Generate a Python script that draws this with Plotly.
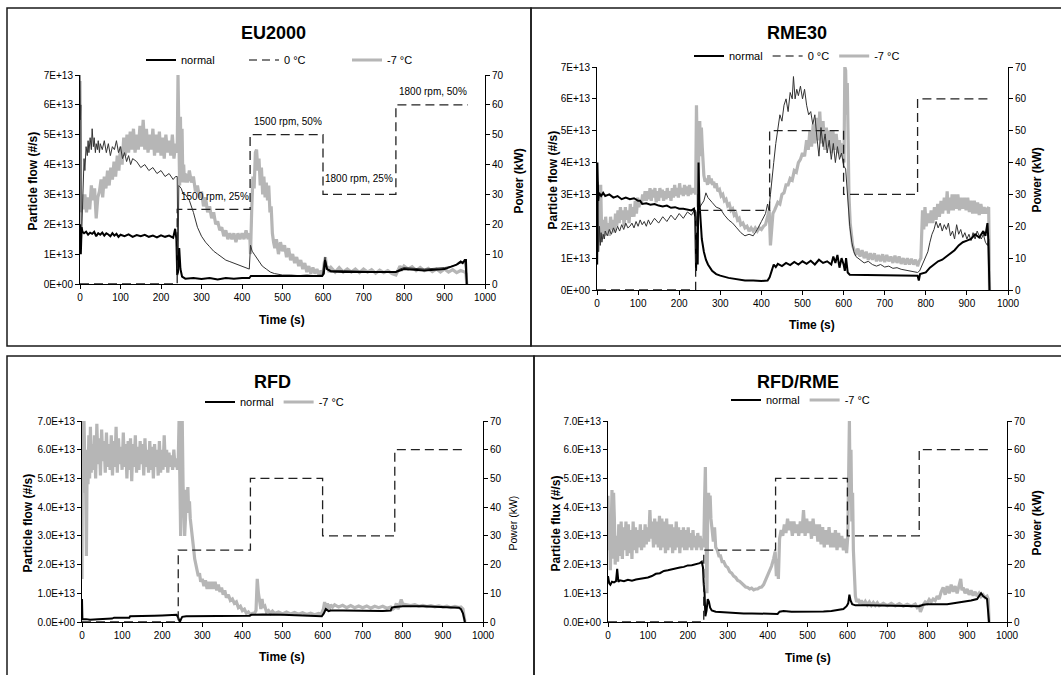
import plotly.graph_objects as go

# ---------------- data (particle values in units of 1E+13 #/s, time in s) ----------------
eu_normal = [(0,2.0),(2,1.0),(4,1.9),(6,1.75),(10,1.7),(15,1.75),(20,1.65),(25,1.72),(30,1.68),(35,1.75),
             (40,1.6),(45,1.7),(50,1.65),(55,1.72),(60,1.62),(65,1.7),(70,1.66),(75,1.6),(80,1.7),(85,1.62),
             (90,1.68),(95,1.58),(100,1.65),(110,1.6),(120,1.66),(130,1.58),(140,1.64),(150,1.6),(160,1.65),
             (170,1.58),(180,1.62),(190,1.56),(200,1.63),(210,1.58),(220,1.62),(230,1.55),(235,1.85),(238,1.5),
             (240,0.3),(242,0.4),(245,1.2),(248,0.5),(252,0.25),(256,0.2),(260,0.18),(280,0.2),(300,0.17),
             (320,0.2),(340,0.15),(360,0.2),(380,0.18),(400,0.2),(418,0.2),(422,0.27),(440,0.27),(500,0.26),
             (560,0.27),(598,0.27),(602,0.35),(605,0.8),(610,0.5),(620,0.42),(650,0.4),(700,0.4),(750,0.38),
             (780,0.4),(790,0.45),(800,0.5),(850,0.45),(900,0.5),(910,0.55),(920,0.6),(930,0.65),(940,0.75),
             (945,0.7),(950,0.8),(953,0.8),(955,0.0)]
eu_zero = [(0,7.0),(1,5.5),(2,6.0),(3,1.2),(5,2.0),(8,3.5),(10,4.2),(12,3.8),(15,4.6),(18,4.3),(20,4.8),
           (22,4.4),(25,4.9),(28,4.5),(30,5.2),(33,4.6),(35,4.9),(38,4.4),(40,4.7),(43,4.5),(45,4.8),(48,4.4),
           (50,4.7),(55,4.5),(60,4.8),(65,4.4),(70,4.7),(75,4.3),(80,4.6),(85,4.5),(90,4.8),(95,4.4),(100,4.6),
           (105,4.2),(110,4.4),(115,4.1),(120,4.3),(125,4.0),(130,4.2),(140,4.1),(150,3.9),(160,4.0),(170,3.8),
           (180,3.9),(190,3.7),(200,3.8),(210,3.6),(220,3.7),(230,3.5),(236,3.6),(240,3.6),(242,0.5),(244,3.3),
           (250,3.2),(255,3.0),(260,3.0),(270,2.8),(280,2.4),(290,1.9),(300,1.6),(310,1.4),(320,1.25),(330,1.1),
           (340,1.0),(350,0.9),(360,0.8),(370,0.75),(380,0.7),(390,0.65),(400,0.6),(410,0.55),(418,0.5),
           (421,1.3),(425,1.1),(430,1.0),(440,0.8),(450,0.6),(460,0.5),(470,0.4),(480,0.35),(490,0.32),
           (500,0.3),(520,0.3),(540,0.28),(560,0.3),(580,0.28),(598,0.3),(602,0.6),(605,0.9),(610,0.5),
           (620,0.45),(650,0.45),(700,0.42),(750,0.4),(780,0.42),(790,0.5),(800,0.55),(850,0.5),(900,0.55),
           (920,0.6),(940,0.7),(950,0.75),(955,0.0)]
eu_cold = [(0,6.8),(2,2.4),(4,3.0),(8,2.5),(12,3.0),(16,2.4),(20,2.9),(24,2.5),(28,3.3),(32,2.8),(36,3.2),
           (40,2.2),(44,2.9),(48,3.1),(52,3.5),(56,2.9),(60,3.6),(64,3.2),(68,3.8),(72,3.3),(76,3.9),(80,3.5),
           (84,4.1),(88,3.6),(92,4.3),(96,3.8),(100,4.6),(104,4.0),(108,4.9),(112,4.3),(116,5.0),(120,4.4),
           (124,5.1),(128,4.5),(132,5.2),(136,4.4),(140,5.0),(144,4.5),(148,5.3),(152,4.6),(156,5.5),(160,4.5),
           (164,5.2),(168,4.4),(172,5.0),(176,4.5),(180,5.2),(184,4.3),(188,5.0),(192,4.4),(196,5.1),(200,4.3),
           (204,4.9),(208,4.2),(212,5.0),(216,4.4),(220,4.8),(224,4.3),(228,5.0),(232,4.2),(236,4.7),(239,4.5),
           (240,4.4),(242,7.0),(244,4.0),(246,3.3),(248,5.6),(250,3.5),(252,5.2),(254,3.4),(256,4.0),(258,3.4),
           (260,3.7),(265,3.4),(270,3.8),(275,3.4),(280,3.6),(285,3.1),(290,3.3),(295,2.9),(300,3.1),(305,2.6),
           (310,2.9),(315,2.4),(320,2.6),(325,2.2),(330,2.4),(335,2.0),(340,2.1),(345,1.8),(350,1.9),(355,1.6),
           (360,1.8),(365,1.5),(370,1.7),(375,1.5),(380,1.7),(385,1.4),(390,1.7),(395,1.5),(400,1.7),(405,1.5),
           (410,1.8),(415,1.5),(419,1.7),(421,1.0),(424,2.5),(427,3.6),(430,3.2),(433,4.4),(436,4.5),(439,3.8),
           (442,4.2),(445,3.3),(448,3.9),(451,3.0),(454,3.6),(457,2.9),(460,3.4),(463,2.8),(466,3.3),(469,2.4),
           (472,2.6),(475,1.7),(478,1.4),(481,1.2),(485,1.5),(490,1.0),(495,1.4),(500,1.1),(505,1.3),(510,0.9),
           (515,1.2),(520,0.8),(525,1.0),(530,0.7),(535,0.9),(540,0.6),(545,0.8),(550,0.5),(555,0.7),(560,0.4),
           (565,0.6),(570,0.35),(575,0.55),(580,0.35),(585,0.5),(590,0.3),(595,0.45),(600,0.35),(603,0.7),
           (606,0.9),(609,0.5),(612,0.6),(615,0.4),(620,0.55),(630,0.4),(640,0.55),(650,0.4),(660,0.5),
           (670,0.4),(680,0.5),(690,0.38),(700,0.5),(710,0.4),(720,0.48),(730,0.36),(740,0.46),(750,0.38),
           (760,0.45),(770,0.35),(780,0.3),(785,0.45),(790,0.6),(795,0.5),(800,0.6),(810,0.5),(820,0.58),
           (830,0.45),(840,0.55),(850,0.45),(860,0.52),(870,0.42),(880,0.5),(890,0.4),(900,0.5),(910,0.4),
           (920,0.48),(930,0.38),(940,0.45),(950,0.4),(953,0.35),(955,0.0)]

rme_normal = [(0,0.8),(1,4.0),(3,2.8),(5,3.05),(10,2.95),(15,3.05),(20,2.95),(30,3.0),(40,2.9),(50,2.95),
              (60,2.85),(70,2.9),(80,2.85),(90,2.88),(100,2.8),(105,2.8),(110,2.7),(120,2.72),(130,2.68),
              (140,2.7),(150,2.65),(160,2.62),(170,2.65),(180,2.58),(190,2.6),(200,2.55),(210,2.55),(220,2.52),
              (230,2.5),(236,2.55),(239,2.3),(241,0.6),(243,1.8),(245,0.8),(247,4.0),(249,2.8),(252,2.0),
              (255,1.6),(260,1.2),(265,0.95),(270,0.8),(280,0.6),(290,0.5),(300,0.45),(320,0.38),(340,0.33),
              (360,0.3),(380,0.3),(400,0.28),(415,0.3),(420,0.4),(425,0.6),(430,0.8),(435,0.72),(440,0.82),
              (450,0.75),(460,0.85),(470,0.78),(480,0.88),(490,0.8),(500,0.9),(510,0.82),(520,0.92),(530,0.8),
              (540,0.95),(550,0.85),(560,0.9),(570,0.8),(575,1.05),(580,0.85),(585,1.1),(590,0.7),(595,1.0),
              (600,0.8),(603,0.6),(606,1.0),(610,0.55),(615,0.48),(650,0.47),(700,0.46),(750,0.46),(780,0.45),
              (783,0.3),(786,0.5),(800,0.55),(810,0.7),(820,0.8),(830,0.9),(840,0.95),(850,1.05),(860,1.15),
              (870,1.25),(880,1.4),(890,1.5),(900,1.55),(910,1.6),(920,1.75),(930,1.65),(940,1.85),(945,1.7),
              (950,2.1),(952,1.6),(955,0.0)]
rme_zero = [(0,1.0),(2,3.3),(4,1.2),(6,2.0),(8,1.4),(10,1.8),(12,1.5),(15,1.75),(18,1.6),(20,1.85),(25,1.7),
            (30,1.9),(35,1.75),(40,1.95),(45,1.8),(50,2.0),(55,1.85),(60,2.05),(65,1.9),(70,2.1),(75,1.95),
            (80,2.0),(85,2.1),(90,1.95),(95,2.15),(100,2.0),(105,2.2),(110,2.05),(115,2.15),(120,2.0),(125,2.2),
            (130,2.05),(140,2.25),(150,2.1),(160,2.3),(170,2.15),(180,2.35),(190,2.2),(200,2.4),(210,2.25),
            (220,2.45),(230,2.35),(236,2.5),(240,2.5),(243,2.0),(246,3.0),(250,2.6),(255,2.7),(260,2.8),
            (265,3.05),(270,2.9),(280,2.75),(290,2.6),(300,2.55),(310,2.35),(320,2.2),(330,2.1),(340,1.95),
            (350,1.8),(360,1.7),(370,1.75),(380,1.7),(390,1.9),(400,2.15),(410,2.4),(415,2.7),(418,2.5),
            (422,3.0),(426,3.6),(430,4.0),(435,4.6),(440,5.0),(445,5.5),(450,5.3),(455,5.8),(460,6.0),(465,5.6),
            (470,6.2),(475,6.0),(478,6.7),(482,6.0),(486,6.3),(490,6.1),(495,6.4),(500,6.0),(505,6.3),(510,5.8),
            (515,5.5),(520,5.6),(525,5.2),(530,5.5),(535,4.8),(540,4.2),(545,5.1),(550,4.5),(555,4.9),(560,4.3),
            (565,4.7),(570,4.1),(575,4.6),(580,4.0),(585,4.5),(590,4.1),(595,4.3),(600,3.9),(605,3.8),(610,3.0),
            (615,2.0),(620,1.5),(625,1.2),(630,1.05),(640,0.95),(650,0.85),(660,0.9),(670,0.8),(680,0.75),
            (690,0.8),(700,0.72),(710,0.75),(720,0.68),(730,0.7),(740,0.65),(750,0.62),(760,0.6),(770,0.58),
            (780,0.55),(785,0.6),(790,0.75),(795,0.9),(800,1.05),(805,1.2),(810,1.5),(815,1.75),(820,1.9),
            (825,2.15),(830,1.95),(835,2.1),(840,1.85),(845,2.05),(850,1.9),(855,2.1),(860,1.7),(865,1.85),
            (870,1.6),(875,2.05),(880,1.75),(885,1.9),(890,1.65),(895,1.8),(900,1.6),(905,1.75),(910,1.55),
            (915,1.8),(920,1.6),(925,1.85),(930,1.7),(935,1.6),(940,1.75),(945,1.5),(950,1.4),(953,1.6),(955,0.0)]
rme_cold = [(0,0.8),(1,3.4),(3,1.6),(5,2.2),(7,1.5),(9,3.3),(11,2.0),(13,1.6),(15,2.2),(18,1.7),(21,2.3),
            (24,1.8),(27,2.1),(30,1.7),(33,2.3),(36,1.9),(39,2.2),(42,1.8),(45,2.4),(48,2.0),(51,2.5),(54,2.1),
            (57,2.6),(60,2.2),(63,2.5),(66,2.0),(69,2.6),(72,2.2),(75,2.5),(78,2.1),(81,2.7),(84,2.3),(87,2.6),
            (90,2.3),(93,2.8),(96,2.4),(99,2.9),(102,2.6),(105,2.8),(108,2.7),(111,3.0),(114,2.8),(117,3.1),
            (120,2.8),(123,3.1),(126,2.85),(129,3.2),(132,2.8),(135,3.15),(138,2.9),(141,3.2),(144,2.75),
            (147,3.1),(150,2.8),(153,3.2),(156,2.9),(159,3.15),(162,2.8),(165,3.1),(168,2.85),(171,3.2),
            (174,2.9),(177,3.1),(180,2.8),(183,3.2),(186,2.9),(189,3.3),(192,2.95),(195,3.2),(198,2.9),
            (201,3.35),(204,3.0),(207,3.2),(210,2.95),(213,3.3),(216,3.0),(219,3.25),(222,2.95),(225,3.3),
            (228,3.0),(231,3.2),(234,3.05),(237,3.2),(240,3.0),(242,5.8),(244,3.2),(246,2.6),(248,5.0),
            (250,5.3),(252,4.2),(254,5.1),(256,4.5),(258,4.0),(260,3.6),(263,3.4),(266,3.5),(269,3.3),
            (272,3.6),(275,3.35),(278,3.5),(281,3.3),(284,3.4),(287,3.2),(290,3.35),(294,3.1),(298,3.15),
            (302,2.95),(306,3.0),(310,2.8),(314,2.85),(318,2.65),(322,2.7),(326,2.5),(330,2.55),(334,2.35),
            (338,2.4),(342,2.2),(346,2.25),(350,2.05),(355,2.1),(360,1.95),(365,2.0),(370,1.85),(375,1.95),
            (380,1.85),(385,1.95),(390,1.85),(395,1.95),(400,1.9),(405,2.0),(410,2.05),(415,2.3),(419,2.5),
            (422,1.4),(425,2.0),(428,2.4),(432,2.5),(436,2.6),(440,2.75),(445,2.7),(450,3.0),(455,3.05),
            (460,3.3),(465,3.3),(470,3.5),(475,3.45),(480,3.75),(485,3.7),(490,4.0),(495,4.1),(500,4.3),
            (505,4.2),(510,4.7),(514,4.4),(518,5.0),(522,4.5),(526,5.2),(530,4.6),(534,5.4),(538,4.7),
            (542,5.6),(546,4.6),(550,5.3),(554,4.4),(558,5.1),(562,4.5),(566,5.0),(570,4.3),(574,5.0),
            (578,4.4),(582,4.9),(586,4.3),(590,4.7),(594,4.2),(598,4.6),(601,4.0),(603,7.0),(605,6.9),
            (607,5.5),(609,6.5),(611,4.0),(613,3.0),(616,2.1),(619,1.6),(622,1.4),(626,1.25),(630,1.1),
            (635,1.3),(640,1.05),(645,1.25),(650,1.0),(655,1.2),(660,0.95),(665,1.15),(670,0.95),(675,1.15),
            (680,0.9),(685,1.1),(690,0.9),(695,1.12),(700,0.88),(705,1.1),(710,0.9),(715,1.05),(720,0.85),
            (725,1.08),(730,0.85),(735,1.05),(740,0.82),(745,1.0),(750,0.8),(755,1.0),(760,0.8),(765,0.98),
            (770,0.8),(775,0.95),(780,0.75),(784,0.9),(788,1.0),(792,2.5),(795,1.9),(798,2.6),(801,2.0),
            (805,2.4),(809,2.1),(813,2.5),(817,2.1),(821,2.6),(825,2.2),(829,2.7),(833,2.3),(837,2.8),
            (841,2.4),(845,2.9),(849,2.5),(852,3.1),(855,2.4),(858,2.9),(861,2.5),(864,3.0),(867,2.5),
            (870,3.0),(874,2.55),(878,3.0),(882,2.5),(886,2.9),(890,2.55),(894,2.9),(898,2.5),(902,2.9),
            (906,2.45),(910,2.8),(914,2.4),(918,2.8),(922,2.4),(926,2.75),(930,2.35),(934,2.7),(938,2.4),
            (942,2.6),(946,2.4),(950,2.55),(953,2.6),(955,0.0)]

rfd_normal = [(0,0.8),(1,0.1),(10,0.1),(20,0.08),(40,0.1),(60,0.1),(75,0.12),(80,0.15),(100,0.15),(118,0.15),
              (120,0.2),(150,0.2),(180,0.22),(200,0.23),(220,0.25),(230,0.27),(236,0.25),(240,0.15),(244,0.0),
              (247,0.1),(250,0.18),(260,0.2),(300,0.2),(350,0.2),(400,0.2),(418,0.22),(422,0.25),(450,0.26),
              (500,0.25),(550,0.22),(580,0.2),(598,0.2),(603,0.3),(608,0.45),(615,0.38),(620,0.4),(650,0.4),
              (700,0.38),(750,0.38),(770,0.4),(773,0.5),(780,0.52),(800,0.55),(850,0.55),(900,0.52),(940,0.5),
              (945,0.45),(950,0.3),(955,0.0)]
rfd_cold = [(0,1.5),(1,7.0),(3,4.5),(5,7.0),(7,5.5),(9,4.8),(11,2.3),(13,6.0),(15,4.8),(17,6.5),(19,5.0),
            (21,6.8),(23,5.2),(25,6.2),(28,5.3),(31,6.5),(34,5.0),(37,6.9),(40,5.5),(43,6.4),(46,5.1),(49,6.7),
            (52,5.6),(55,6.3),(58,5.2),(61,6.6),(64,5.4),(67,6.2),(70,5.3),(73,6.5),(76,5.1),(79,6.3),(82,5.4),
            (85,6.8),(88,5.2),(91,6.4),(94,5.5),(97,6.1),(100,5.3),(103,6.6),(106,5.4),(109,6.2),(112,5.0),
            (115,6.3),(118,5.3),(121,6.4),(124,4.9),(127,6.2),(130,5.4),(133,6.5),(136,5.2),(139,6.1),(142,5.3),
            (145,6.3),(148,5.5),(151,6.2),(154,5.1),(157,6.4),(160,5.4),(163,6.0),(166,5.2),(169,6.3),(172,5.3),
            (175,6.1),(178,5.0),(181,6.2),(184,5.4),(187,6.0),(190,5.1),(193,6.3),(196,5.2),(199,6.0),(202,5.3),
            (205,6.5),(208,5.4),(211,6.0),(214,5.2),(217,5.9),(220,5.4),(223,5.8),(226,5.3),(229,6.0),(232,5.4),
            (235,5.7),(238,5.3),(240,5.6),(242,7.0),(244,5.2),(246,3.0),(248,5.5),(250,7.0),(252,4.8),(254,3.6),
            (256,3.0),(258,3.6),(260,4.6),(262,4.2),(264,4.7),(266,3.8),(268,4.2),(270,3.6),(272,3.4),(275,3.0),
            (278,2.6),(281,2.2),(284,2.0),(287,1.8),(290,1.6),(293,1.7),(296,1.4),(300,1.5),(304,1.25),(308,1.45),
            (312,1.15),(316,1.4),(320,1.15),(324,1.4),(328,1.15),(332,1.4),(336,1.1),(340,1.3),(344,1.05),
            (348,1.2),(352,0.95),(356,1.1),(360,0.85),(365,0.95),(370,0.75),(375,0.8),(380,0.65),(385,0.7),
            (390,0.5),(395,0.55),(400,0.4),(405,0.45),(410,0.3),(415,0.35),(420,0.25),(425,0.3),(430,0.3),
            (434,0.4),(437,1.5),(440,1.0),(443,0.6),(446,0.45),(449,0.8),(452,0.5),(456,0.55),(460,0.35),
            (465,0.4),(470,0.3),(475,0.38),(480,0.3),(490,0.35),(500,0.28),(510,0.35),(520,0.28),(530,0.33),
            (540,0.27),(550,0.32),(560,0.26),(570,0.31),(580,0.25),(590,0.3),(597,0.28),(602,0.45),(605,0.7),
            (608,0.45),(612,0.65),(616,0.4),(620,0.6),(625,0.52),(630,0.6),(640,0.52),(650,0.58),(660,0.5),
            (670,0.57),(680,0.5),(690,0.56),(700,0.5),(710,0.56),(720,0.48),(730,0.55),(740,0.5),(750,0.55),
            (760,0.48),(770,0.52),(775,0.45),(780,0.5),(784,0.65),(788,0.45),(792,0.6),(796,0.78),(800,0.62),
            (810,0.6),(820,0.57),(830,0.6),(840,0.55),(850,0.58),(860,0.54),(870,0.57),(880,0.53),(890,0.56),
            (900,0.52),(910,0.55),(920,0.5),(930,0.54),(940,0.5),(945,0.52),(950,0.45),(955,0.0)]

rr_normal = [(0,1.6),(3,1.35),(6,1.3),(10,1.4),(15,1.38),(20,1.42),(23,1.85),(26,1.4),(30,1.45),(40,1.42),
             (50,1.47),(60,1.44),(70,1.48),(80,1.5),(90,1.52),(100,1.55),(110,1.6),(120,1.68),(130,1.7),
             (140,1.78),(150,1.8),(160,1.84),(170,1.88),(180,1.9),(190,1.92),(200,1.97),(210,1.98),(220,2.02),
             (230,2.05),(235,2.1),(238,1.9),(240,1.3),(242,1.0),(244,0.2),(247,0.4),(250,0.8),(253,0.7),
             (256,0.5),(260,0.4),(270,0.36),(280,0.35),(300,0.32),(320,0.32),(340,0.3),(360,0.3),(380,0.3),
             (400,0.29),(420,0.3),(425,0.28),(430,0.36),(440,0.38),(460,0.36),(480,0.36),(500,0.35),(520,0.36),
             (540,0.37),(560,0.38),(580,0.42),(590,0.45),(598,0.55),(602,0.65),(605,0.95),(608,0.75),(612,0.62),
             (620,0.58),(650,0.58),(680,0.57),(700,0.56),(730,0.56),(760,0.55),(780,0.55),(790,0.6),(800,0.62),
             (830,0.62),(850,0.62),(870,0.66),(890,0.7),(910,0.75),(925,0.8),(935,1.0),(940,0.9),(945,0.85),
             (950,0.8),(955,0.0)]
rr_cold = [(0,4.4),(2,2.5),(4,3.0),(6,1.8),(8,3.2),(10,4.6),(12,2.2),(14,4.5),(16,3.6),(18,2.0),(21,3.0),
           (24,2.1),(27,3.4),(30,2.3),(33,3.5),(36,2.2),(39,3.3),(42,2.5),(45,3.5),(48,2.3),(51,3.4),(54,2.4),
           (57,3.2),(60,2.2),(63,3.5),(66,2.5),(69,3.3),(72,2.4),(75,3.2),(78,2.6),(81,3.4),(84,2.5),(87,3.2),
           (90,2.6),(93,3.4),(96,2.7),(99,3.3),(102,2.8),(105,3.9),(108,2.9),(111,3.5),(114,2.6),(117,3.6),
           (120,2.7),(123,3.5),(126,2.6),(129,3.7),(132,2.5),(135,3.6),(138,2.6),(141,3.5),(144,2.4),(147,3.6),
           (150,2.5),(153,3.4),(156,2.6),(159,3.4),(162,2.4),(165,3.3),(168,2.5),(171,3.5),(174,2.6),(177,3.3),
           (180,2.4),(183,3.2),(186,2.6),(189,3.3),(192,2.5),(195,3.2),(198,2.5),(201,3.3),(204,2.6),(207,3.1),
           (210,2.5),(213,3.2),(216,2.6),(219,3.0),(222,2.5),(225,3.1),(228,2.6),(231,3.0),(234,2.5),(237,2.9),
           (240,2.6),(242,4.2),(244,5.4),(246,3.0),(248,1.0),(250,3.8),(252,4.5),(254,3.8),(256,4.4),(258,3.6),
           (261,3.2),(264,2.8),(267,3.3),(270,2.6),(274,2.5),(278,2.3),(282,2.3),(286,2.1),(290,2.1),(295,1.95),
           (300,1.9),(305,1.75),(310,1.7),(315,1.6),(320,1.55),(325,1.45),(330,1.42),(335,1.35),(340,1.3),
           (345,1.22),(350,1.2),(355,1.15),(360,1.18),(365,1.12),(370,1.15),(375,1.15),(380,1.2),(385,1.22),
           (390,1.3),(395,1.45),(400,1.6),(405,1.75),(410,1.95),(415,2.2),(419,2.45),(422,1.6),(424,2.2),
           (427,1.5),(430,2.9),(434,3.2),(438,3.0),(442,3.4),(446,3.1),(450,3.6),(454,3.2),(458,3.5),(462,3.0),
           (466,3.5),(470,3.1),(474,3.4),(478,3.0),(482,3.5),(486,3.1),(490,3.9),(494,3.0),(498,3.6),(502,3.1),
           (506,3.5),(510,2.9),(514,3.6),(518,3.0),(522,3.4),(526,2.8),(530,3.4),(534,2.7),(538,3.3),(542,2.6),
           (546,3.2),(550,2.7),(554,3.3),(558,2.6),(562,3.1),(566,2.6),(570,3.2),(574,2.5),(578,3.1),(582,2.6),
           (586,3.0),(590,2.5),(594,2.9),(598,2.4),(601,3.0),(603,5.0),(605,7.0),(607,4.2),(609,6.0),(611,3.5),
           (613,4.5),(615,2.5),(617,1.6),(620,0.9),(623,0.7),(627,0.8),(631,0.65),(635,0.75),(640,0.6),
           (645,0.72),(650,0.6),(655,0.7),(660,0.58),(665,0.68),(670,0.58),(675,0.67),(680,0.57),(690,0.65),
           (700,0.57),(710,0.65),(720,0.56),(730,0.64),(740,0.55),(750,0.62),(760,0.55),(770,0.62),(775,0.5),
           (780,0.55),(783,0.35),(786,0.5),(790,0.6),(795,0.7),(800,0.65),(805,0.78),(810,0.7),(815,0.8),
           (820,0.75),(825,0.9),(830,0.8),(835,1.05),(840,1.2),(845,0.95),(850,1.25),(855,1.0),(860,1.3),
           (865,1.05),(870,1.25),(875,1.0),(880,1.3),(884,1.5),(887,1.1),(890,1.2),(895,1.0),(900,1.15),
           (905,0.95),(910,1.1),(915,0.92),(920,1.05),(925,0.9),(930,1.0),(935,0.88),(940,0.95),(945,0.85),
           (950,0.9),(953,0.8),(955,0.0)]

# engine power steps (kW)
power_t = [0, 240, 240, 420, 420, 600, 600, 780, 780, 958]
power_kw = [0, 0, 25, 25, 50, 50, 30, 30, 60, 60]

# tick labels
x_ticks = [0, 100, 200, 300, 400, 500, 600, 700, 800, 900, 1000]
y_ticks = [0, 1, 2, 3, 4, 5, 6, 7]
y_text_a = ["0E+00", "1E+13", "2E+13", "3E+13", "4E+13", "5E+13", "6E+13", "7E+13"]
y_text_b = ["0.0E+00", "1.0E+13", "2.0E+13", "3.0E+13", "4.0E+13", "5.0E+13", "6.0E+13", "7.0E+13"]
p_ticks = [0, 10, 20, 30, 40, 50, 60, 70]

# step labels (EU2000 panel): (text, time, power)
step_labels = [("1500 rpm, 25%", 333, 29.2), ("1500 rpm, 50%", 514, 54.5),
               ("1800 rpm, 25%", 690, 35.5), ("1800 rpm, 50%", 871, 64.5)]

# ---------------- layout helpers ----------------
W, H = 1061, 675
FONT = "Liberation Sans, Arial, sans-serif"
def fx(px): return px / W
def fy(py): return 1 - py / H

GRAY = "#b6b6b6"
panels = [
    dict(title="EU2000", box=(80, 485, 75, 284), normal=eu_normal, zero=eu_zero, cold=eu_cold,
         yt=y_text_a, ylab="Particle flow (#/s)", title_xy=(273, 33), xlab_xy=(282, 320),
         ylab_x=32, plab_x=518, plab_bold=True, legend=dict(x=141, y=60, entry=58)),
    dict(title="RME30", box=(597, 1008, 67, 290), normal=rme_normal, zero=rme_zero, cold=rme_cold,
         yt=y_text_a, ylab="Particle flow (#/s)", title_xy=(797, 33), xlab_xy=(812, 325),
         ylab_x=552, plab_x=1036, plab_bold=True, legend=dict(x=689, y=56, entry=0)),
    dict(title="RFD", box=(82, 483, 421, 622), normal=rfd_normal, zero=None, cold=rfd_cold,
         yt=y_text_b, ylab="Particle flow (#/s)", title_xy=(272, 382), xlab_xy=(282, 657),
         ylab_x=27, plab_x=512, plab_bold=False, legend=dict(x=200, y=402, entry=0)),
    dict(title="RFD/RME", box=(608, 1007, 421, 622), normal=rr_normal, zero=None, cold=rr_cold,
         yt=y_text_b, ylab="Particle flux (#/s)", title_xy=(798, 382), xlab_xy=(808, 658),
         ylab_x=555, plab_x=1036, plab_bold=True, legend=dict(x=726, y=400, entry=0)),
]

fig = go.Figure()
layout = dict(width=W, height=H, margin=dict(l=0, r=0, t=0, b=0), paper_bgcolor="white",
              plot_bgcolor="rgba(0,0,0,0)", font=dict(family=FONT, size=10, color="black"),
              annotations=[], shapes=[])

for i, p in enumerate(panels):
    k = i + 1
    xa = "x" if k == 1 else f"x{k}"
    ya = "y" if k == 1 else f"y{2*k-1}"
    yb = f"y{2*k}"
    lg = "legend" if k == 1 else f"legend{k}"
    x0, x1, y0, y1 = p["box"]

    ct, cv = zip(*p["cold"])
    fig.add_trace(go.Scatter(x=ct, y=cv, xaxis=xa, yaxis=ya, mode="lines", name="-7 °C",
                             line=dict(color=GRAY, width=3.2), legend=lg, legendrank=3))
    if p["zero"] is not None:
        zt, zv = zip(*p["zero"])
        fig.add_trace(go.Scatter(x=zt, y=zv, xaxis=xa, yaxis=ya, mode="lines", name="0 °C",
                                 line=dict(color="#333333", width=1), showlegend=False, legend=lg))
        fig.add_trace(go.Scatter(x=[None], y=[None], xaxis=xa, yaxis=ya, mode="lines", name="0 °C",
                                 line=dict(color="black", width=1.2, dash="8px,5px"), legend=lg,
                                 legendrank=2))
    nt, nv = zip(*p["normal"])
    fig.add_trace(go.Scatter(x=nt, y=nv, xaxis=xa, yaxis=ya, mode="lines", name="normal",
                             line=dict(color="black", width=2), legend=lg, legendrank=1))
    fig.add_trace(go.Scatter(x=power_t, y=power_kw, xaxis=xa, yaxis=yb, mode="lines", name="Power",
                             line=dict(color="#222222", width=1.3, dash="9px,5px"), showlegend=False))

    axis_common = dict(showgrid=False, zeroline=False, showline=True, linecolor="black", linewidth=1,
                       ticks="outside", ticklen=4, tickcolor="black", tickfont=dict(size=10),
                       automargin=False)
    layout["xaxis" if k == 1 else f"xaxis{k}"] = dict(
        axis_common, domain=[fx(x0), fx(x1)], anchor=ya, range=[0, 1000],
        tickmode="array", tickvals=x_ticks)
    layout["yaxis" if k == 1 else f"yaxis{2*k-1}"] = dict(
        axis_common, domain=[fy(y1), fy(y0)], anchor=xa, range=[0, 7],
        tickmode="array", tickvals=y_ticks, ticktext=p["yt"])
    layout[f"yaxis{2*k}"] = dict(
        axis_common, overlaying=ya, side="right", anchor=xa, range=[0, 70],
        tickmode="array", tickvals=p_ticks)

    L = p["legend"]
    leg = dict(x=fx(L["x"]), y=fy(L["y"]), xanchor="left", yanchor="middle", orientation="h",
               bgcolor="rgba(0,0,0,0)", font=dict(size=11), itemwidth=30, tracegroupgap=0)
    if L["entry"]:
        leg["entrywidth"] = L["entry"]
    layout[lg] = leg

    ann = layout["annotations"]
    tx, ty = p["title_xy"]
    ann.append(dict(text=f"<b>{p['title']}</b>", x=fx(tx), y=fy(ty), xref="paper", yref="paper",
                    showarrow=False, font=dict(size=18), xanchor="center", yanchor="middle"))
    lx, ly = p["xlab_xy"]
    ann.append(dict(text="<b>Time (s)</b>", x=fx(lx), y=fy(ly), xref="paper", yref="paper",
                    showarrow=False, font=dict(size=12), xanchor="center", yanchor="middle"))
    ann.append(dict(text=f"<b>{p['ylab']}</b>", x=fx(p["ylab_x"]), y=fy((y0 + y1) / 2 + 2),
                    xref="paper", yref="paper", showarrow=False, font=dict(size=12), textangle=-90,
                    xanchor="center", yanchor="middle"))
    ptxt = "<b>Power (kW)</b>" if p["plab_bold"] else "Power (kW)"
    ann.append(dict(text=ptxt, x=fx(p["plab_x"]), y=fy((y0 + y1) / 2 + 2), xref="paper", yref="paper",
                    showarrow=False, font=dict(size=12 if p["plab_bold"] else 10.5), textangle=-90,
                    xanchor="center", yanchor="middle"))

for text, t, pw in step_labels:
    layout["annotations"].append(dict(text=text, x=t, y=pw, xref="x", yref="y2", showarrow=False,
                                      font=dict(size=10), xanchor="center", yanchor="middle",
                                      bgcolor="rgba(255,255,255,0)"))

# panel frames
frames = [(7, 8, 531, 346), (531, 8, 1063, 346), (7, 356, 534, 678), (534, 356, 1063, 678)]
for (a, b, c, d) in frames:
    layout["shapes"].append(dict(type="rect", xref="paper", yref="paper", x0=fx(a), x1=fx(c),
                                 y0=fy(d), y1=fy(b), line=dict(color="#1a1a1a", width=1.5),
                                 layer="below"))

fig.update_layout(**layout)
fig.write_html("out.html")
